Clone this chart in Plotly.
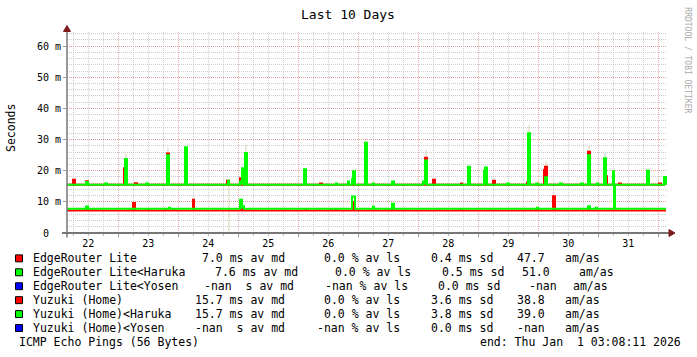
import plotly.graph_objects as go

# ---------------- data (time = day of December 2025, fractional) ----------------
START, END = 22.145, 32.128

DAY_TICKS = [22.5, 23.5, 24.5, 25.5, 26.5, 27.5, 28.5, 29.5, 30.5, 31.5]
DAY_LABELS = ["22", "23", "24", "25", "26", "27", "28", "29", "30", "31"]
Y_TICKS = [0, 10, 20, 30, 40, 50, 60]
Y_LABELS = ["0\u00a0\u00a0", "10 m", "20 m", "30 m", "40 m", "50 m", "60 m"]

# median RTT baselines (ms)
ER_BASE = 7.2
ER_HARUKA_BASE = 7.8
YZ_BASE = 15.5
YZ_HARUKA_BASE = 15.5

# (start, end, median ms) episodes away from baseline
ER_SPIKES = [(22.462, 22.495, 7.7), (23.245, 23.278, 9.6), (23.495, 23.512, 7.6),
             (23.778, 23.795, 7.6), (23.912, 23.928, 7.6), (24.245, 24.262, 10.7),
             (25.045, 25.078, 7.8), (26.112, 26.128, 7.6), (26.628, 26.645, 7.6),
             (26.912, 26.928, 9.9), (27.562, 27.578, 7.6), (28.712, 28.728, 7.6),
             (29.962, 29.995, 7.6), (30.245, 30.278, 11.8), (30.828, 30.845, 7.6)]
ER_HARUKA_SPIKES = [(22.462, 22.495, 8.5), (23.845, 23.862, 8.1), (25.028, 25.062, 10.7),
                    (25.062, 25.095, 8.6), (26.895, 26.945, 11.7), (27.245, 27.262, 8.5),
                    (27.562, 27.595, 9.4), (29.978, 29.995, 8.1), (30.828, 30.862, 8.6),
                    (30.962, 30.978, 8.1)]
YZ_SPIKES = [(22.245, 22.278, 17.1), (22.462, 22.495, 16.6), (23.095, 23.128, 20.8),
             (23.278, 23.312, 16.0), (23.812, 23.845, 25.5), (24.812, 24.845, 16.8),
             (25.028, 25.062, 17.6), (26.095, 26.128, 19.0), (26.362, 26.395, 15.9),
             (26.828, 26.845, 16.2), (27.112, 27.128, 16.4), (28.112, 28.145, 24.2),
             (28.245, 28.278, 17.1), (28.712, 28.728, 15.9), (29.112, 29.145, 19.5),
             (29.245, 29.278, 16.8), (29.812, 29.828, 16.2), (29.978, 29.995, 15.8),
             (30.095, 30.112, 20.2), (30.112, 30.145, 21.3), (30.828, 30.862, 26.1),
             (31.128, 31.145, 18.2), (31.345, 31.378, 15.9), (31.828, 31.845, 16.0),
             (32.012, 32.045, 15.9), (32.095, 32.128, 16.3)]
YZ_HARUKA_SPIKES = [(22.462, 22.495, 16.4), (22.778, 22.812, 15.9), (23.112, 23.145, 23.8),
                    (23.462, 23.495, 15.9), (23.812, 23.845, 25.0), (24.112, 24.145, 27.5),
                    (24.828, 24.845, 16.8), (25.028, 25.062, 16.5), (25.062, 25.095, 20.8),
                    (25.112, 25.145, 25.7), (26.095, 26.128, 20.5), (26.628, 26.645, 15.9),
                    (26.828, 26.845, 16.5), (26.895, 26.912, 17.3), (26.912, 26.945, 19.8),
                    (27.112, 27.145, 29.0), (27.245, 27.262, 15.9), (27.562, 27.595, 16.5),
                    (28.078, 28.112, 16.5), (28.112, 28.145, 23.3), (28.828, 28.862, 21.3),
                    (29.095, 29.112, 20.0), (29.112, 29.145, 21.0), (29.478, 29.512, 15.9),
                    (29.828, 29.862, 32.0), (29.962, 29.995, 15.8), (30.112, 30.145, 17.9),
                    (30.362, 30.395, 15.9), (30.712, 30.745, 15.9), (30.828, 30.862, 25.0),
                    (30.978, 30.995, 15.9), (31.095, 31.128, 24.0), (31.245, 31.262, 19.8),
                    (31.262, 31.278, 8.0), (31.812, 31.845, 20.0), (32.095, 32.128, 18.0)]

# smoke (time, low ms, high ms)
SMOKE = [(23.128, 23.8, 25.5), (23.828, 25.5, 27.5), (24.845, 0.5, 15.5), (25.128, 25.7, 28.3),
         (25.828, 14.8, 15.5), (27.128, 29.0, 30.5), (28.128, 24.2, 26.8), (29.845, 32.0, 34.7),
         (30.128, 21.3, 23.0), (30.845, 26.1, 28.0), (31.112, 24.0, 25.7), (31.695, 15.0, 15.6),
         (31.828, 20.0, 20.8)]

LEGEND_NAMES = ["EdgeRouter Lite", "EdgeRouter Lite<Haruka", "EdgeRouter Lite<Yosen",
                "Yuzuki (Home)", "Yuzuki (Home)<Haruka", "Yuzuki (Home)<Yosen"]
LEGEND_COLORS = ["#ff0000", "#00ff00", "#0000ff", "#ff0000", "#00ff00", "#0000ff"]
LEGEND_MEDIAN = ["7.0 ms av md", "7.6 ms av md", "-nan  s av md",
                 "15.7 ms av md", "15.7 ms av md", "-nan  s av md"]
LEGEND_LOSS = ["0.0 % av ls", "0.0 % av ls", "-nan % av ls",
               "0.0 % av ls", "0.0 % av ls", "-nan % av ls"]
LEGEND_SD = ["0.4 ms sd", "0.5 ms sd", "0.0 ms sd", "3.6 ms sd", "3.8 ms sd", "0.0 ms sd"]
LEGEND_AMAS = ["47.7", "51.0", "-nan", "38.8", "39.0", "-nan"]


def step_series(base, spikes):
    xs, ys = [START], [base]
    for s, e, v in spikes:
        xs += [s, e]
        ys += [v, base]
    xs.append(END)
    ys.append(base)
    return xs, ys


FONT = "DejaVu Sans Mono"
fig = go.Figure()

sx, sy = [], []
for t, lo, hi in SMOKE:
    sx += [t, t, None]
    sy += [lo, hi, None]
fig.add_trace(go.Scatter(x=sx, y=sy, mode="lines", line=dict(color="rgba(200,195,150,0.7)", width=1),
                         hoverinfo="skip"))

for base, spikes, color in [(ER_BASE, ER_SPIKES, "#ff0000"),
                            (YZ_BASE, YZ_SPIKES, "#ff0000"),
                            (ER_HARUKA_BASE, ER_HARUKA_SPIKES, "#00ff00"),
                            (YZ_HARUKA_BASE, YZ_HARUKA_SPIKES, "#00ff00")]:
    x, y = step_series(base, spikes)
    fig.add_trace(go.Scatter(x=x, y=y, mode="lines", line=dict(color=color, width=2, shape="hv")))

# invisible trace to carry the label axis
fig.add_trace(go.Scatter(x=[START], y=[0], xaxis="x2", mode="markers", marker=dict(opacity=0),
                         hoverinfo="skip"))

L, R, T, B = 67, 667, 31.5, 233.5
W, H = 697, 357


def px(p):
    return (p - L) / (R - L)


def py(p):
    return (B - p) / (B - T)


MAJ = "rgba(232,140,140,0.7)"
MIN = "rgba(200,200,200,0.9)"
fig.update_layout(
    width=W, height=H, autosize=False,
    margin=dict(l=L, r=W - R, t=T, b=H - B, pad=0),
    paper_bgcolor="white", plot_bgcolor="white", showlegend=False,
    xaxis=dict(range=[22.145, 32.145], tick0=22, dtick=1, showticklabels=False,
               showgrid=True, gridcolor=MAJ, griddash="1px,1px", gridwidth=1,
               ticks="outside", ticklen=3, tickcolor="#999", zeroline=False, showline=False,
               minor=dict(tick0=22, dtick=0.25, showgrid=True, gridcolor=MIN, griddash="1px,1px",
                          ticks="outside", ticklen=2, tickcolor="#bbb")),
    xaxis2=dict(range=[22.145, 32.145], overlaying="x", anchor="y", side="bottom",
                tickvals=DAY_TICKS, ticktext=DAY_LABELS, showgrid=False, ticks="",
                zeroline=False, showline=False, ticklabelstandoff=3,
                tickfont=dict(family=FONT, size=10, color="black")),
    yaxis=dict(range=[0, 64.55], tickvals=Y_TICKS, ticktext=Y_LABELS,
               showgrid=True, gridcolor=MAJ, griddash="1px,1px", zeroline=False, showline=False,
               ticks="outside", ticklen=3, tickcolor="#999",
               tickfont=dict(family=FONT, size=10, color="black"),
               minor=dict(dtick=2, showgrid=True, gridcolor=MIN, griddash="1px,1px")),
)

shapes = []
AX = "#777777"
ARR = "#7a1a1a"
shapes.append(dict(type="line", xref="paper", yref="paper", x0=px(62), x1=px(669), y0=py(B), y1=py(B),
                   line=dict(color=AX, width=2), layer="above"))
shapes.append(dict(type="line", xref="paper", yref="paper", x0=px(L), x1=px(L), y0=py(238), y1=py(29),
                   line=dict(color=AX, width=1.5), layer="above"))
shapes.append(dict(type="path", xref="paper", yref="paper",
                   path=f"M {px(669)} {py(230)} L {px(675)} {py(B)} L {px(669)} {py(237)} Z",
                   fillcolor=ARR, line=dict(color=ARR, width=1), layer="above"))
shapes.append(dict(type="path", xref="paper", yref="paper",
                   path=f"M {px(63.5)} {py(31)} L {px(L)} {py(25)} L {px(70.5)} {py(31)} Z",
                   fillcolor=ARR, line=dict(color=ARR, width=1), layer="above"))

ann = []


def text(txt, x, y, size, color="black", xanchor="center", angle=0):
    ann.append(dict(text=txt.replace(" ", "\u00a0"), x=px(x), y=py(y), xref="paper", yref="paper",
                    xanchor=xanchor, yanchor="middle", textangle=angle, showarrow=False,
                    font=dict(family=FONT, size=size, color=color)))


text("Last 10 Days", 348, 14, 13)
text("Seconds", 11, 128, 11.5, angle=-90)
text("RRDTOOL / TOBI OETIKER", 688, 60, 8, color="#aaaaaa", angle=90)

rows_y = [259, 273, 287, 301, 315, 329]
med_x = [200, 213.3, 201.7, 193.3, 193.3, 193.3]
loss_x = [321.7, 333.3, 322.7, 321.7, 321.7, 315]
sd_x = [429.3, 440, 436, 429.3, 429.3, 429.3]
am_x = [515, 520, 526.7, 515, 515, 515]
amas_x = [563.3, 577.3, 570.7, 563.3, 563.3, 563.3]
for i, yy in enumerate(rows_y):
    shapes.append(dict(type="rect", xref="paper", yref="paper", x0=px(15.5), x1=px(22.5),
                       y0=py(yy + 3.5), y1=py(yy - 3.5), fillcolor=LEGEND_COLORS[i],
                       line=dict(color="black", width=1)))
    for xpos, txt in [(30.5, LEGEND_NAMES[i]), (med_x[i], LEGEND_MEDIAN[i]), (loss_x[i], LEGEND_LOSS[i]),
                      (sd_x[i], LEGEND_SD[i]), (am_x[i], LEGEND_AMAS[i]), (amas_x[i], "am/as")]:
        text(txt, xpos, yy, 11.5, xanchor="left")
text("ICMP Echo Pings (56 Bytes)", 16.5, 343, 11.5, xanchor="left")
text("end: Thu Jan  1 03:08:11 2026", 478.3, 343, 11.5, xanchor="left")

fig.update_layout(shapes=shapes, annotations=ann)
fig.write_html("out.html", config={"displayModeBar": False, "staticPlot": True},
               post_script="document.body.style.margin='0';document.body.style.overflow='hidden';")
